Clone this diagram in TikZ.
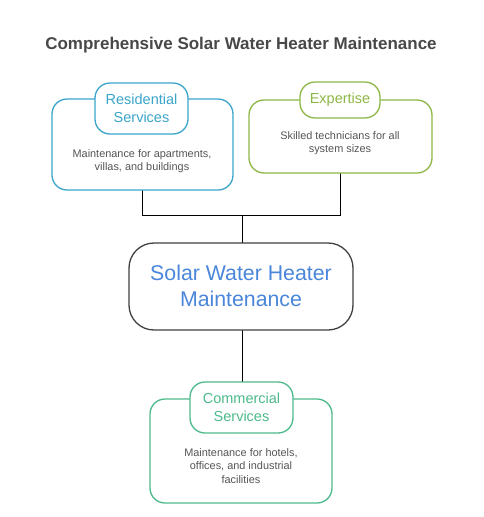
\documentclass[tikz,border=0pt]{standalone}
\usepackage{fontspec}
\setmainfont{Liberation Sans}
\definecolor{titlegray}{HTML}{484848}
\definecolor{descgray}{HTML}{555555}
\definecolor{resblue}{HTML}{3BA5CB}
\definecolor{expgreen}{HTML}{8DB846}
\definecolor{comgreen}{HTML}{4DBA8C}
\definecolor{centblue}{HTML}{4A86DA}
\definecolor{centline}{HTML}{404040}
\tikzset{
  outerbox/.style={draw=#1, line width=1.3pt, rounded corners=15pt, fill=white},
  labelbox/.style={draw=#1, line width=1.3pt, rounded corners=15pt, fill=white},
  labeltext/.style={text=#1, font=\fontsize{14.5}{18}\selectfont, align=center},
  desctext/.style={text=descgray, font=\fontsize{10.9}{13.5}\selectfont, align=center},
  conn/.style={draw=black, line width=0.9pt},
}
\begin{document}
\begin{tikzpicture}[x=1pt,y=-1pt]
\useasboundingbox (0,0) rectangle (483,517);
\fill[white] (0,0) rectangle (483,517);
\node[text=titlegray, font=\bfseries\fontsize{17}{20}\selectfont] (title) at (241,45) {Comprehensive Solar Water Heater Maintenance};

% connectors
\coordinate (j1) at (142,215);
\coordinate (j2) at (340,215);
\coordinate (jc) at (242,215);
\coordinate (resb) at (142,190);
\coordinate (expb) at (340,173);
\coordinate (centt) at (242,243);
\coordinate (centb) at (242,330);
\coordinate (comt) at (242,382);
\draw[conn] (resb) -- (j1) -- (j2) -- (expb);
\draw[conn] (jc) -- (centt);
\draw[conn] (centb) -- (comt);

% Residential
\draw[outerbox=resblue] (52,99) rectangle (233,190);
\draw[labelbox=resblue] (95,83) rectangle (188,134);
\node[labeltext=resblue] (reslabel) at (141.5,108) {Residential\\Services};
\node[desctext] (resdesc) at (142,161) {Maintenance for apartments,\\villas, and buildings};

% Expertise
\draw[outerbox=expgreen] (249,100) rectangle (432,173);
\draw[labelbox=expgreen] (300,82) rectangle (380,118);
\node[labeltext=expgreen] (explabel) at (340,100) {Expertise};
\node[desctext] (expdesc) at (340,143) {Skilled technicians for all\\system sizes};

% Center
\draw[draw=centline, line width=1.3pt, rounded corners=25pt, fill=white] (129,243) rectangle (353,330);
\node[text=centblue, font=\fontsize{21.3}{26}\selectfont, align=center] (center) at (241,286) {Solar Water Heater\\Maintenance};

% Commercial
\draw[outerbox=comgreen] (150,399) rectangle (332,503);
\draw[labelbox=comgreen] (190,382) rectangle (293,433);
\node[labeltext=comgreen] (comlabel) at (241.5,407) {Commercial\\Services};
\node[desctext] (comdesc) at (241,466) {Maintenance for hotels,\\offices, and industrial\\facilities};
\end{tikzpicture}
\end{document}
